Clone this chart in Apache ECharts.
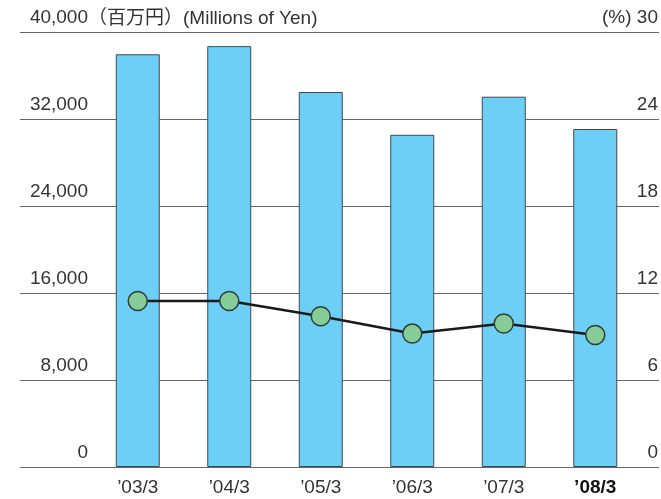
<!DOCTYPE html>
<html>
<head>
<meta charset="utf-8">
<script src="https://cdn.jsdelivr.net/npm/echarts@6/dist/echarts.min.js"></script>
<style>
html,body{margin:0;padding:0;background:#fff;}
#c{width:661px;height:499px;}
</style>
</head>
<body>
<div id="c"></div>
<script>
const categories = ["’03/3", "’04/3", "’05/3", "’06/3", "’07/3", "’08/3"];
const salesValues = [37950, 38700, 34480, 30550, 34050, 31080];
const ratioValues = [11.45, 11.45, 10.4, 9.2, 9.9, 9.1];
const leftTicks = [0, 8000, 16000, 24000, 32000, 40000];
const rightTicks = [0, 6, 12, 18, 24, 30];

const FONT = '"Liberation Sans", Arial, sans-serif';
const chart = echarts.init(document.getElementById('c'));
chart.setOption({
  animation: false,
  backgroundColor: '#fff',
  title: {
    text: '（百万円）(Millions of Yen)',
    left: 83,
    top: 4,
    textStyle: { fontFamily: '"Liberation Sans", "Noto Sans CJK JP", sans-serif', fontSize: 19, fontWeight: 'normal', color: '#333' }
  },
  grid: [
    { left: 92, right: 19, top: 32, bottom: 32 },
    { left: 20, right: 2, top: 32, bottom: 32 }
  ],
  xAxis: [
    {
      type: 'category', gridIndex: 0, data: categories,
      axisLine: { show: false }, axisTick: { show: false },
      axisLabel: {
        margin: 11, fontFamily: FONT, fontSize: 19, color: '#333',
        formatter: function (v, i) { return i === categories.length - 1 ? '{b|' + v + '}' : v; },
        rich: { b: { fontFamily: FONT, fontSize: 19, fontWeight: 'bold', color: '#111' } }
      }
    },
    { type: 'value', gridIndex: 1, show: false, min: 0, max: 1 }
  ],
  yAxis: [
    {
      type: 'value', gridIndex: 0, min: leftTicks[0], max: leftTicks[leftTicks.length - 1], interval: 8000,
      position: 'left',
      axisLine: { show: false }, axisTick: { show: false }, splitLine: { show: false },
      axisLabel: {
        margin: 4, fontFamily: FONT, fontSize: 19, color: '#333', verticalAlign: 'bottom',
        padding: [0, 0, 5, 0],
        formatter: function (v) { return v.toLocaleString('en-US'); }
      }
    },
    {
      type: 'value', gridIndex: 0, min: rightTicks[0], max: rightTicks[rightTicks.length - 1], interval: 6,
      position: 'right',
      axisLine: { show: false }, axisTick: { show: false }, splitLine: { show: false },
      axisLabel: {
        margin: 17, align: 'right', fontFamily: FONT, fontSize: 19, color: '#333', verticalAlign: 'bottom',
        padding: [0, 0, 5, 0],
        formatter: function (v) { return v === 30 ? '(%) 30' : String(v); }
      }
    },
    {
      type: 'value', gridIndex: 1, min: leftTicks[0], max: leftTicks[leftTicks.length - 1], interval: 8000,
      axisLine: { show: false }, axisTick: { show: false }, axisLabel: { show: false },
      splitLine: { show: true, lineStyle: { color: '#666', width: 1.2 } }
    }
  ],
  series: [
    {
      type: 'bar', xAxisIndex: 0, yAxisIndex: 0, data: salesValues,
      barWidth: 44,
      itemStyle: { color: '#6dcff6', borderColor: '#3d4a52', borderWidth: 1 },
      z: 2
    },
    {
      type: 'line', xAxisIndex: 0, yAxisIndex: 1, data: ratioValues,
      symbol: 'circle', symbolSize: 19,
      lineStyle: { color: '#1a1a1a', width: 2.5 },
      itemStyle: { color: '#86cc98', borderColor: '#2f3f35', borderWidth: 1.5 },
      z: 3
    }
  ]
});
</script>
</body>
</html>
